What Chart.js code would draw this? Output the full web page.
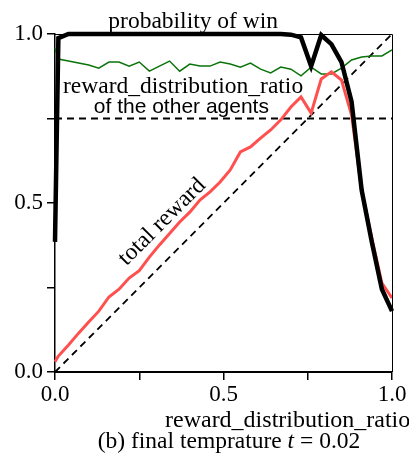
<!DOCTYPE html>
<html>
<head>
<meta charset="utf-8">
<script src="https://cdn.jsdelivr.net/npm/chart.js@4.4.1/dist/chart.umd.min.js"></script>
<style>
  html, body { margin: 0; padding: 0; background: #fff; }
  #wrap { width: 409px; height: 456px; }
</style>
</head>
<body>
<div id="wrap"><canvas id="chart" width="409" height="456"></canvas></div>
<script>
// reward_distribution_ratio of the agent (x)
const ratios = [0, 0.01, 0.04, 0.07, 0.10, 0.13, 0.16, 0.19, 0.22, 0.25, 0.28, 0.31,
  0.34, 0.37, 0.40, 0.43, 0.46, 0.49, 0.52, 0.55, 0.58, 0.61, 0.64, 0.67, 0.70,
  0.73, 0.76, 0.79, 0.82, 0.85, 0.88, 0.91, 0.94, 0.97, 1.00]

const totalReward = [0.03, 0.047, 0.08, 0.115, 0.148, 0.18, 0.222, 0.245, 0.278, 0.30,
  0.34, 0.376, 0.41, 0.444, 0.473, 0.509, 0.533, 0.562, 0.598, 0.651, 0.666, 0.692,
  0.716, 0.746, 0.784, 0.814, 0.766, 0.867, 0.888, 0.864, 0.76, 0.538, 0.396, 0.263, 0.219]

const winProbability = [0.385, 0.988, 1.0, 1.0, 1.0, 1.0, 1.0, 1.0, 1.0, 1.0, 1.0, 1.0,
  1.0, 1.0, 1.0, 1.0, 1.0, 1.0, 1.0, 1.0, 1.0, 1.0, 1.0, 1.0, 0.998, 0.99, 0.905,
  0.997, 0.97, 0.917, 0.80, 0.538, 0.385, 0.245, 0.18]

const otherAgentsRatio = [0.958, 0.926, 0.92, 0.914, 0.908, 0.899, 0.917, 0.917, 0.905,
  0.917, 0.89, 0.905, 0.92, 0.89, 0.911, 0.905, 0.905, 0.917, 0.911, 0.902, 0.914,
  0.896, 0.885, 0.902, 0.896, 0.876, 0.902, 0.882, 0.882, 0.899, 0.923, 0.932, 0.935,
  0.935, 0.953]

const tickValues = [0, 0.25, 0.5, 0.75, 1.0]
const tickLabels = { 0: '0.0', 0.5: '0.5', 1: '1.0' }

const serif = "'Liberation Serif', 'DejaVu Serif', serif"
const sans = "'Liberation Sans', Arial, sans-serif"

const toPoints = (ys) => ratios.map((x, i) => ({ x: x, y: ys[i] }))

// texts, frame and captions
const textPlugin = {
  id: 'texts',
  afterDraw(chart) {
    const ctx = chart.ctx
    const a = chart.chartArea
    const xs = chart.scales.x
    const ys = chart.scales.y
    ctx.save()

    // top/right frame lines
    ctx.strokeStyle = '#000'
    ctx.lineWidth = 1
    ctx.beginPath()
    ctx.moveTo(a.left, a.top + 0.5)
    ctx.lineTo(a.right + 0.5, a.top + 0.5)
    ctx.lineTo(a.right + 0.5, a.bottom)
    ctx.stroke()

    ctx.fillStyle = '#000'
    ctx.textBaseline = 'alphabetic'
    ctx.textAlign = 'center'
    ctx.font = '23.5px ' + serif
    ctx.fillText('probability of win', xs.getPixelForValue(0.41), a.top - 6)

    ctx.fillText('reward_distribution_ratio', xs.getPixelForValue(0.38), ys.getPixelForValue(0.825))
    ctx.font = '21px ' + sans
    ctx.fillText('of the other agents', xs.getPixelForValue(0.375), ys.getPixelForValue(0.766))

    // rotated label along the red line
    ctx.save()
    ctx.translate(xs.getPixelForValue(0.318), ys.getPixelForValue(0.444))
    ctx.rotate(-Math.PI / 4)
    ctx.font = '23.5px ' + serif
    ctx.textBaseline = 'middle'
    ctx.fillText('total reward', 0, 0)
    ctx.restore()

    // x axis title, running off the right edge
    ctx.textAlign = 'left'
    ctx.font = '24px ' + serif
    ctx.fillText('reward_distribution_ratio', 165, 427)

    // caption with italic t
    const p1 = '(b) final temprature '
    const p2 = 't'
    const p3 = ' = 0.02'
    ctx.font = '23.5px ' + serif
    const w1 = ctx.measureText(p1).width
    const w3 = ctx.measureText(p3).width
    ctx.font = 'italic 23.5px ' + serif
    const w2 = ctx.measureText(p2).width
    let x = 229 - (w1 + w2 + w3) / 2
    ctx.font = '23.5px ' + serif
    ctx.fillText(p1, x, 448)
    x += w1
    ctx.font = 'italic 23.5px ' + serif
    ctx.fillText(p2, x, 448)
    x += w2
    ctx.font = '23.5px ' + serif
    ctx.fillText(p3, x, 448)

    ctx.restore()
  }
}

new Chart(document.getElementById('chart').getContext('2d'), {
  type: 'line',
  data: {
    datasets: [
      {
        label: 'probability of win',
        data: toPoints(winProbability),
        borderColor: '#000',
        borderWidth: 4.5,
        order: 0
      },
      {
        label: 'total reward',
        data: toPoints(totalReward),
        borderColor: 'rgb(255, 80, 80)',
        borderWidth: 3,
        order: 1
      },
      {
        label: 'reward_distribution_ratio of the other agents',
        data: toPoints(otherAgentsRatio),
        borderColor: 'rgb(10, 115, 10)',
        borderWidth: 1.5,
        order: 2
      },
      {
        label: 'diagonal',
        data: [{ x: 0, y: 0 }, { x: 1, y: 1 }],
        borderColor: '#000',
        borderWidth: 1.8,
        borderDash: [7, 5],
        order: 3
      },
      {
        label: 'three quarters',
        data: [{ x: 0, y: 0.75 }, { x: 1, y: 0.75 }],
        borderColor: '#000',
        borderWidth: 1.8,
        borderDash: [7, 5],
        order: 3
      }
    ]
  },
  options: {
    responsive: false,
    animation: false,
    events: [],
    layout: { padding: { top: 34, right: 17, left: 0, bottom: 0 } },
    elements: {
      point: { radius: 0 },
      line: { tension: 0, fill: false, borderCapStyle: 'butt', borderJoinStyle: 'miter' }
    },
    datasets: { line: { clip: 6 } },
    scales: {
      x: {
        type: 'linear',
        min: 0,
        max: 1,
        afterFit: (scale) => { scale.height = 84 },
        afterBuildTicks: (scale) => { scale.ticks = tickValues.map(v => ({ value: v })) },
        border: { display: true, color: '#000', width: 2 },
        grid: { display: true, drawOnChartArea: false, drawTicks: true, tickLength: 8, color: '#000', lineWidth: 1.5 },
        ticks: {
          color: '#000',
          padding: 1,
          maxRotation: 0,
          autoSkip: false,
          font: { family: serif, size: 23 },
          callback: (v) => tickLabels[v] || ''
        }
      },
      y: {
        type: 'linear',
        min: 0,
        max: 1,
        afterFit: (scale) => { scale.width = 55 },
        afterBuildTicks: (scale) => { scale.ticks = tickValues.map(v => ({ value: v })) },
        border: { display: true, color: '#000', width: 1.5 },
        grid: { display: true, drawOnChartArea: false, drawTicks: true, tickLength: 8, color: '#000', lineWidth: 1.5 },
        ticks: {
          color: '#000',
          padding: 4,
          autoSkip: false,
          font: { family: serif, size: 23 },
          callback: (v) => tickLabels[v] || ''
        }
      }
    },
    plugins: {
      legend: { display: false },
      tooltip: { enabled: false },
      title: { display: false }
    }
  },
  plugins: [textPlugin]
})
</script>
</body>
</html>
